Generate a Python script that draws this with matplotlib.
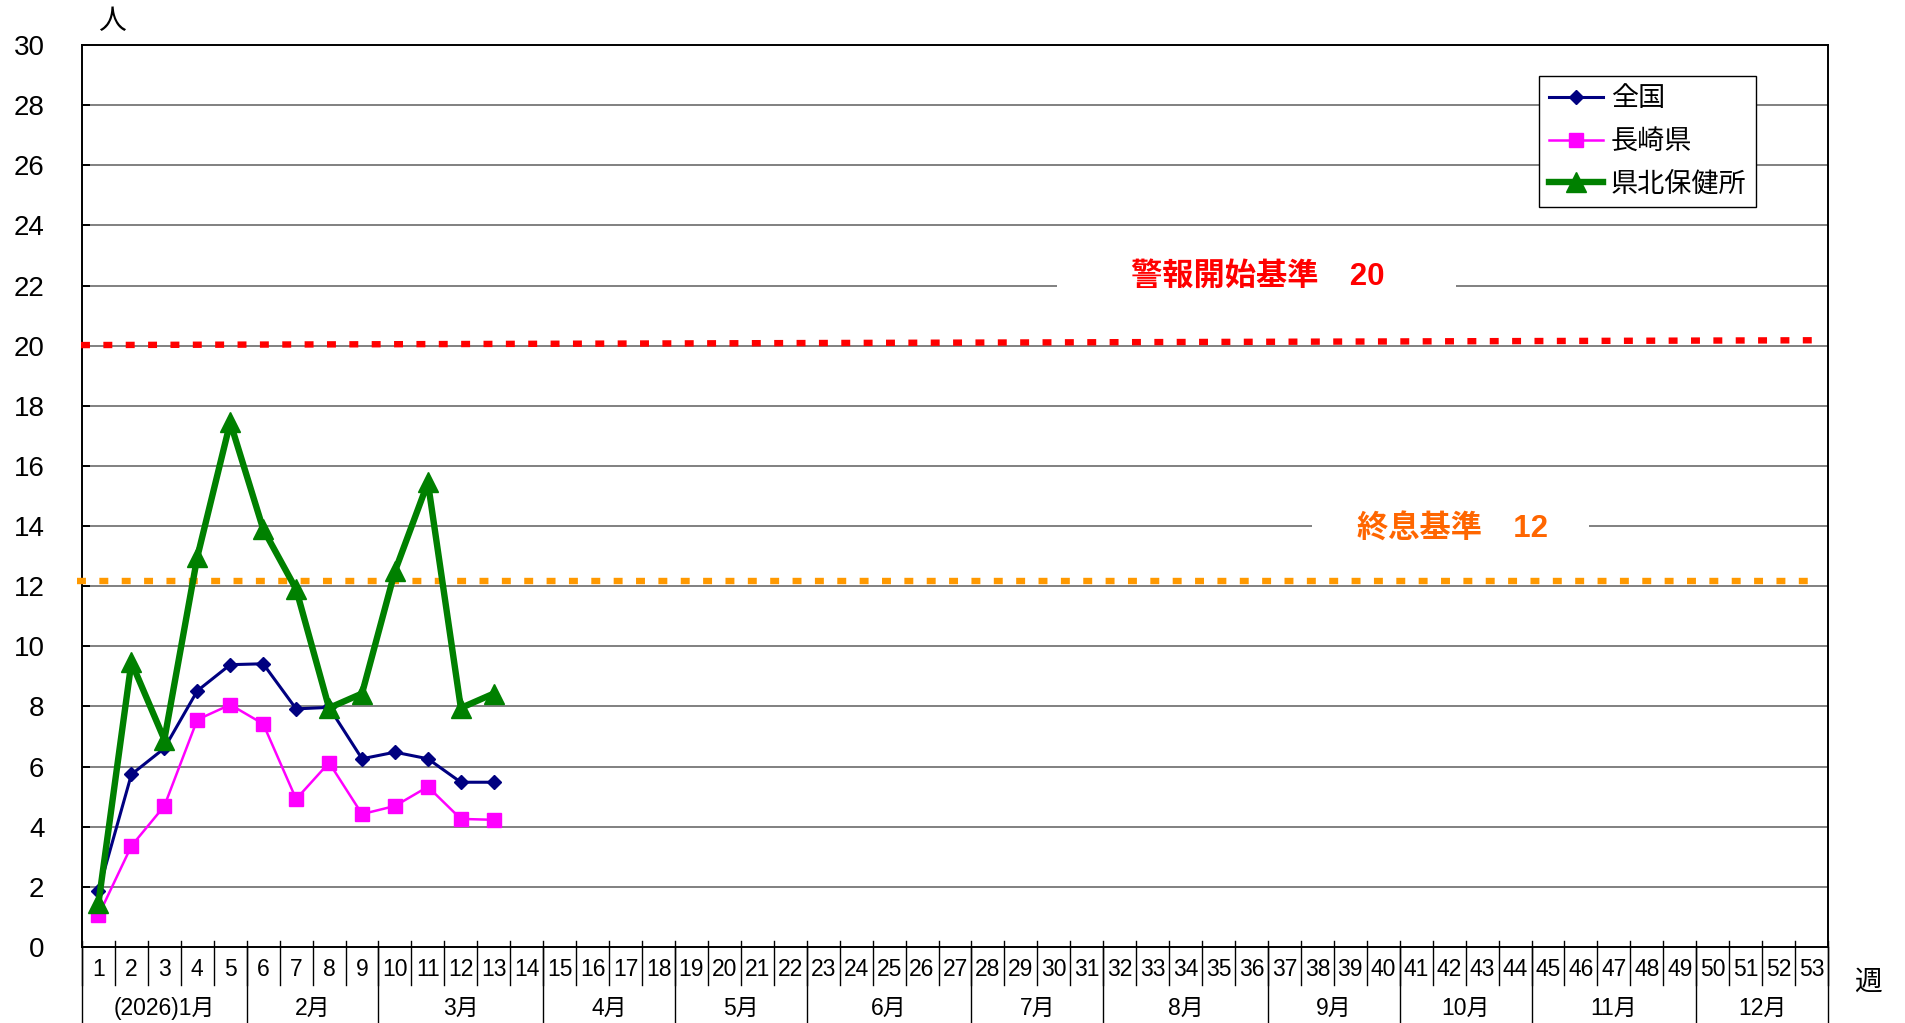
import matplotlib
matplotlib.use('Agg')
import matplotlib.pyplot as plt
from matplotlib.patches import Rectangle

# ---------------- data ----------------
data_weeks = list(range(1, 14))
national = [1.85, 5.74, 6.61, 8.52, 9.39, 9.42, 7.92, 7.97, 6.26, 6.48, 6.26, 5.48, 5.48]
nagasaki = [1.05, 3.36, 4.69, 7.56, 8.06, 7.42, 4.92, 6.13, 4.42, 4.69, 5.33, 4.26, 4.23]
kenpoku = [1.46, 9.47, 6.90, 12.97, 17.45, 13.90, 11.90, 7.95, 8.43, 12.50, 15.45, 7.95, 8.43]
series_names = ['全国', '長崎県', '県北保健所']

week_labels = [str(w) for w in range(1, 54)]
month_labels = ['(2026)1月', '2月', '3月', '4月', '5月', '6月', '7月', '8月',
                '9月', '10月', '11月', '12月']
month_week_counts = [5, 4, 5, 4, 4, 5, 4, 5, 4, 4, 5, 4]
y_ticks = list(range(0, 31, 2))

alert_level = 20
end_level = 12
alert_text = '警報開始基準　20'
end_text = '終息基準　12'

# ---------------- style ----------------
plt.rcParams['font.family'] = ['Liberation Sans', 'Noto Sans CJK JP', 'DejaVu Sans']
lab_fam = ['Liberation Sans', 'Noto Sans CJK JP', 'DejaVu Sans']
cjk = ['Noto Sans CJK JP', 'DejaVu Sans']

W, H = 1905, 1023
fig = plt.figure(figsize=(W / 100, H / 100), dpi=100)
L, T, R, B = 82, 45, 1828, 947
ax = fig.add_axes([L / W, 1 - B / H, (R - L) / W, (B - T) / H])
ax.set_xlim(0.5, 53.5)
ax.set_ylim(0, 30)
axh = B - T

# grid
for y in y_ticks[1:-1]:
    ax.axhline(y, color='#767676', lw=1.3, zorder=1)
for s in ax.spines.values():
    s.set_color('black')
    s.set_linewidth(1.4)

ax.set_yticks(y_ticks)
ax.set_yticklabels([str(v) for v in y_ticks], fontsize=20)
ax.tick_params(axis='y', direction='in', length=6, width=1.4, pad=27)
ax.set_xticks([])

# white boxes behind threshold labels (interrupt gridlines)
ax.add_patch(Rectangle((30.1, 21.6), 12.1, 1.5, facecolor='white', edgecolor='none', zorder=2))
ax.add_patch(Rectangle((37.85, 13.6), 8.4, 1.0, facecolor='white', edgecolor='none', zorder=2))

# threshold lines
ax.plot([0.47, 53.2], [alert_level + 0.02, alert_level + 0.18], color='#FF0000', lw=4.6,
        linestyle=(0, (1.4, 2.1)), dash_capstyle='butt', zorder=3, clip_on=False)
ax.plot([0.35, 53.3], [end_level + 0.18, end_level + 0.18], color='#FF9900', lw=4.6,
        linestyle=(0, (1.4, 2.1)), dash_capstyle='butt', zorder=3, clip_on=False)

ax.text(36.2, 22.3, alert_text, color='#FF0000', fontsize=22.5, fontweight='bold',
        ha='center', va='center', family=lab_fam, zorder=4)
ax.text(42.1, 13.88, end_text, color='#FF6600', fontsize=22.5, fontweight='bold',
        ha='center', va='center', family=lab_fam, zorder=4)

# series
ax.plot(data_weeks, national, color='#000080', lw=2.2, marker='D', markersize=7.2,
        zorder=5, label=series_names[0])
ax.plot(data_weeks, nagasaki, color='#FF00FF', lw=1.8, marker='s', markersize=10.5,
        zorder=5, label=series_names[1])
ax.plot(data_weeks, kenpoku, color='#008000', lw=4.6, marker='^', markersize=15,
        zorder=6, label=series_names[2])

# legend
leg = ax.legend(loc='upper right', bbox_to_anchor=(1756 / W, 1 - 76 / H),
                bbox_transform=fig.transFigure, borderaxespad=0, fancybox=False,
                edgecolor='black', framealpha=1, handlelength=2.0,
                handletextpad=0.3, labelspacing=0.58, borderpad=0.35,
                prop={'family': cjk, 'size': 19.5})
leg.get_frame().set_linewidth(1.0)
leg.set_zorder(10)

# bottom category axis: separators and labels
xt = ax.get_xaxis_transform()
for k in range(0, 54):
    xb = 0.5 + k
    ax.plot([xb, xb], [6 / axh, -38 / axh], color='black', lw=1.0, transform=xt,
            clip_on=False, zorder=1)
bounds = [0]
for c in month_week_counts:
    bounds.append(bounds[-1] + c)
for b in bounds:
    xb = 0.5 + b
    ax.plot([xb, xb], [0, -90 / axh], color='black', lw=1.0, transform=xt,
            clip_on=False, zorder=1)
for i, lab in enumerate(week_labels):
    ax.text(i + 1, -23 / axh, lab, transform=xt, ha='center', va='center',
            fontsize=16.5, family=lab_fam)
for i, lab in enumerate(month_labels):
    cx = 0.5 + (bounds[i] + bounds[i + 1]) / 2
    ax.text(cx, -61 / axh, lab, transform=xt, ha='center', va='center',
            fontsize=16.5, family=lab_fam)

fig.text(112 / W, 1 - 21 / H, '人', fontsize=20, ha='center', va='center', family=cjk)
fig.text(1868 / W, 1 - 982 / H, '週', fontsize=20, ha='center', va='center', family=cjk)

fig.savefig('out.png', dpi=100, facecolor='white')
